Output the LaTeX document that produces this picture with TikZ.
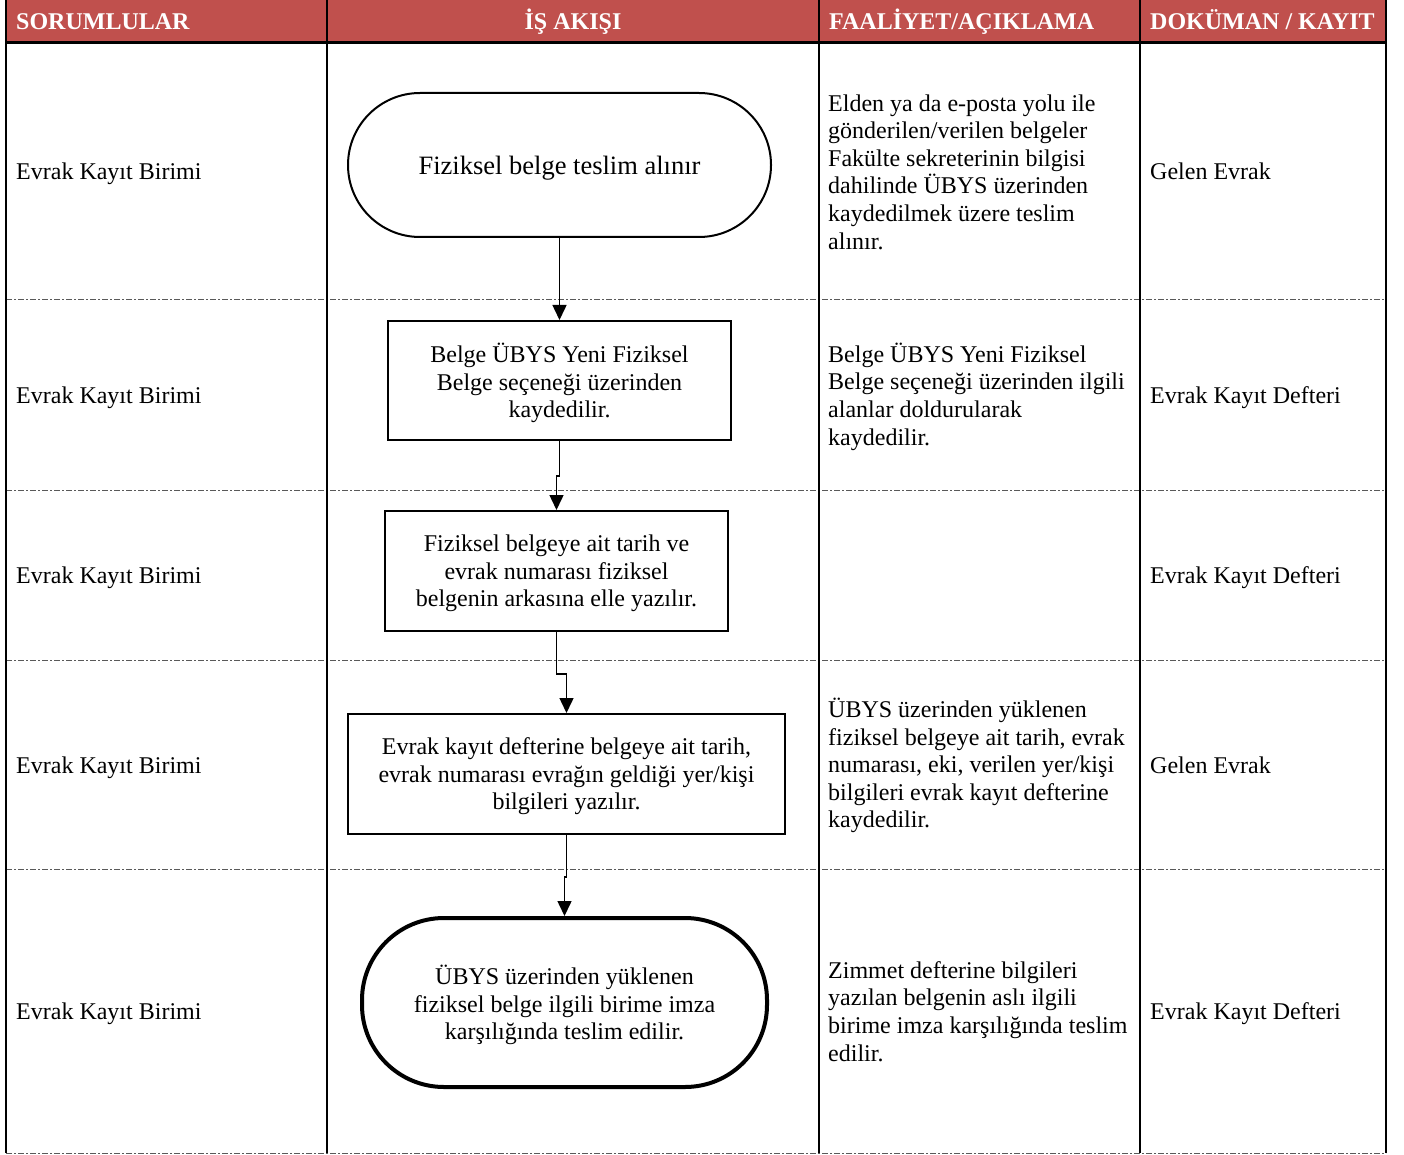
\documentclass[tikz,border=0pt]{standalone}
\usepackage{fontspec}
\setmainfont{Liberation Serif}
\usetikzlibrary{arrows.meta}
\definecolor{hdrred}{HTML}{C0504D}
\begin{document}
\begin{tikzpicture}[x=1pt,y=-1pt,
  txt/.style={inner sep=0pt,font=\fontsize{24}{27.6}\selectfont},
  hdr/.style={inner sep=0pt,text=white,font=\fontsize{24}{27.6}\selectfont\bfseries},
  desc/.style={txt,anchor=west,align=left},
  single/.style={desc,yshift=-3pt},
  shapebox/.style={draw,line width=2pt,inner sep=0pt},
  boxtext/.style={txt,align=center,yshift=-2.5pt},
  colline/.style={line width=2pt},
  rowsep/.style={gray!70!black,line width=1pt,dash pattern=on 6pt off 2pt on 2pt off 2pt},
  flow/.style={line width=1.5pt,-{Triangle[width=14pt,length=15pt]}}]
\useasboundingbox (0,0) rectangle (1404,1155);
% header
\fill[hdrred] (6,0) rectangle (1386,41);
\node[hdr,anchor=west] (h1) at (16,21.5) {SORUMLULAR};
\node[hdr] (h2) at (573,21.5) {İŞ AKIŞI};
\node[hdr,anchor=west] (h3) at (829,21.5) {FAALİYET/AÇIKLAMA};
\node[hdr,anchor=west] (h4) at (1150,20) {DOKÜMAN / KAYIT};
% row separators
\foreach \yy in {300,490,660,869,1153}
  \draw[rowsep] (6,\yy) -- (1386,\yy);
% column lines
\foreach \xx in {6,327,819,1140,1386}
  \draw[colline] (\xx,0) -- (\xx,1153);
\draw[line width=3pt] (5,42.5) -- (1387,42.5);
% left column
\node[single] (r1) at (16,171) {Evrak Kayıt Birimi};
\node[single] (r2) at (16,395) {Evrak Kayıt Birimi};
\node[single] (r3) at (16,575) {Evrak Kayıt Birimi};
\node[single] (r4) at (16,765) {Evrak Kayıt Birimi};
\node[single] (r5) at (16,1011) {Evrak Kayıt Birimi};
% document column
\node[desc] (d1) at (1150,171) {Gelen Evrak};
\node[single] (d2) at (1150,395) {Evrak Kayıt Defteri};
\node[single] (d3) at (1150,575) {Evrak Kayıt Defteri};
\node[desc] (d4) at (1150,765) {Gelen Evrak};
\node[single] (d5) at (1150,1011) {Evrak Kayıt Defteri};
% description column
\node[desc] (a1) at (828,172) {Elden ya da e-posta yolu ile\\gönderilen/verilen belgeler\\Fakülte sekreterinin bilgisi\\dahilinde ÜBYS üzerinden\\kaydedilmek üzere teslim\\alınır.};
\node[desc] (a2) at (828,396.5) {Belge ÜBYS Yeni Fiziksel\\Belge seçeneği üzerinden ilgili\\alanlar doldurularak\\kaydedilir.};
\node[desc] (a4) at (828,765.5) {ÜBYS üzerinden yüklenen\\fiziksel belgeye ait tarih, evrak\\numarası, eki, verilen yer/kişi\\bilgileri evrak kayıt defterine\\kaydedilir.};
\node[desc] (a5) at (828,1011.5) {Zimmet defterine bilgileri\\yazılan belgenin aslı ilgili\\birime imza karşılığında teslim\\edilir.};
% flow shapes
\node[shapebox,rounded corners=72pt,minimum width=423pt,minimum height=144pt] (n1) at (559.5,165) {};
\node[txt,font=\fontsize{26.5}{30}\selectfont,yshift=-3pt] (t1) at (n1.center) {Fiziksel belge teslim alınır};
\node[shapebox,minimum width=343pt,minimum height=119pt] (n2) at (559.5,380.5) {};
\node[boxtext] (t2) at (n2.center) {Belge ÜBYS Yeni Fiziksel\\Belge seçeneği üzerinden\\kaydedilir.};
\node[shapebox,minimum width=343pt,minimum height=120pt] (n3) at (556.5,571) {};
\node[boxtext] (t3) at (n3.center) {Fiziksel belgeye ait tarih ve\\evrak numarası fiziksel\\belgenin arkasına elle yazılır.};
\node[shapebox,minimum width=437pt,minimum height=120pt] (n4) at (566.5,774) {};
\node[boxtext] (t4) at (n4.center) {Evrak kayıt defterine belgeye ait tarih,\\evrak numarası evrağın geldiği yer/kişi\\bilgileri yazılır.};
\node[shapebox,line width=4pt,rounded corners=82pt,minimum width=405pt,minimum height=169pt] (n5) at (564.5,1002.5) {};
\node[boxtext] (t5) at (n5.center) {ÜBYS üzerinden yüklenen\\fiziksel belge ilgili birime imza\\karşılığında teslim edilir.};
% connectors
\draw[flow] (n1.south) -- (n2.north);
\draw[flow] (n2.south) -- ([yshift=-35pt]n2.south) -| (n3.north);
\draw[flow] (n3.south) -- ([yshift=-42pt]n3.south) -| (n4.north);
\draw[flow] (n4.south) -- ([yshift=-42pt]n4.south) -| (n5.north);
\end{tikzpicture}
\end{document}
